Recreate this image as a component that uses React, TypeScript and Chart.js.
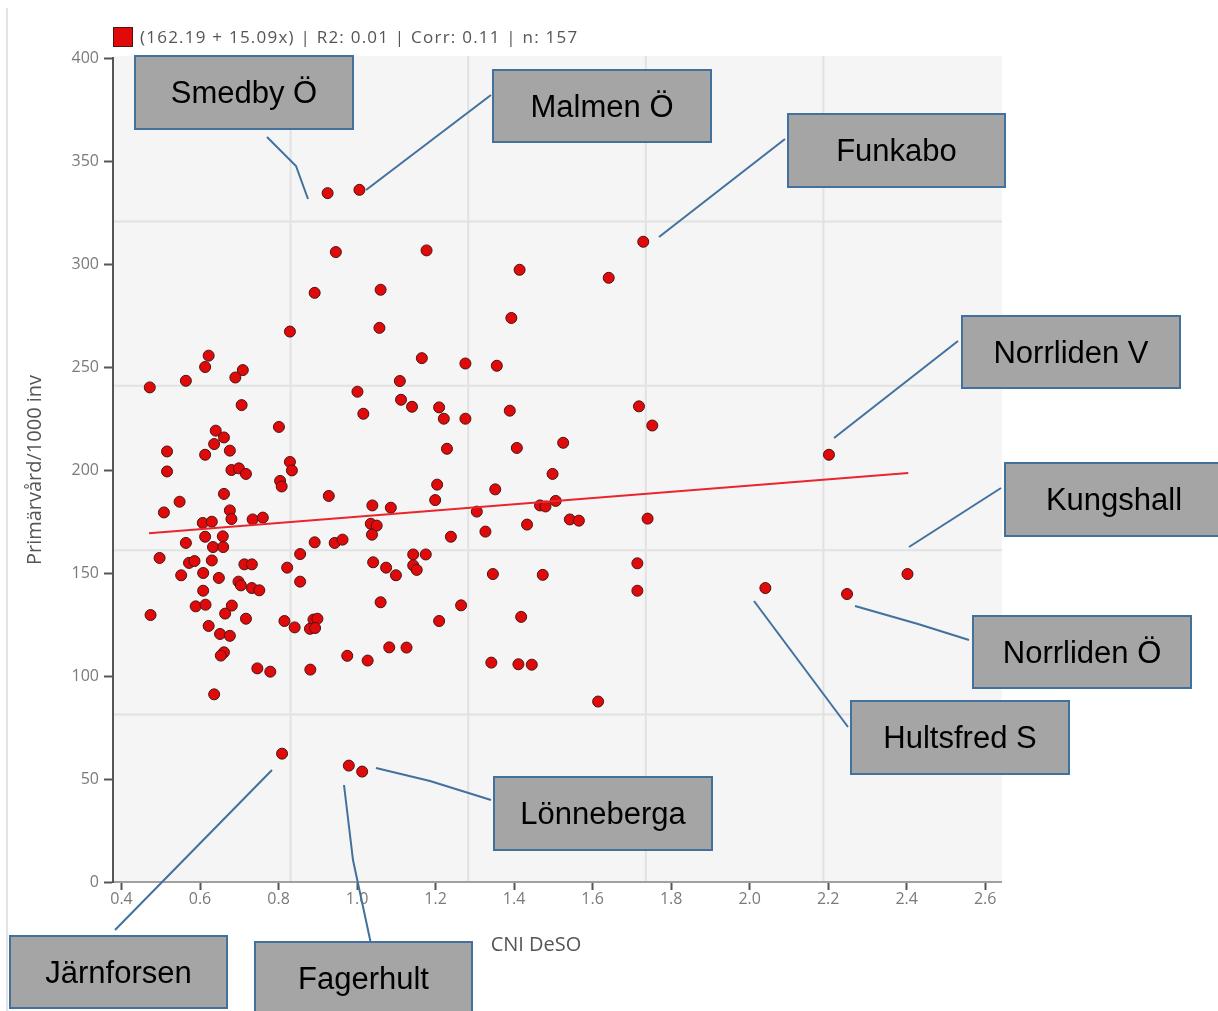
import React, { useEffect, useRef } from "react";
import { Chart, registerables } from "chart.js";

Chart.register(...registerables);

// ---- data ----
const cniDeso = [
  0.925, 1.006, 0.946, 0.892, 1.060, 1.057, 0.829, 0.622, 0.613, 0.709,
  0.690, 0.564, 0.472, 0.706, 1.001, 1.016, 0.640, 0.661, 0.636, 0.676,
  0.516, 0.613, 0.801, 0.829, 0.834, 0.516, 0.680, 0.699, 0.717, 0.804,
  0.808, 0.661, 0.928, 0.548, 0.676, 0.508, 1.039, 1.086, 0.680, 0.607,
  0.630, 0.734, 0.760, 1.035, 1.050, 1.038, 0.613, 0.658, 0.564, 0.633,
  0.659, 0.892, 0.943, 0.963, 0.497, 0.855, 0.572, 0.586, 0.630, 0.713,
  0.732, 0.822, 1.041, 1.074, 1.099, 0.552, 0.608, 0.648, 0.855, 0.698,
  0.704, 0.732, 0.751, 0.608, 1.060, 0.589, 0.614, 0.681, 0.474, 0.664,
  0.717, 0.815, 0.841, 0.889, 0.899, 0.880, 0.893, 0.622, 0.651, 0.676,
  0.661, 0.653, 1.082, 0.975, 1.027, 0.746, 0.779, 0.881, 0.636, 1.177,
  1.414, 1.729, 1.641, 1.393, 1.165, 1.276, 1.356, 1.109, 1.112, 1.140,
  1.209, 1.221, 1.276, 1.389, 1.718, 1.752, 1.525, 1.229, 1.407, 1.498,
  1.204, 1.352, 1.199, 1.305, 1.466, 1.480, 1.506, 1.327, 1.433, 1.542,
  1.565, 1.740, 1.239, 1.143, 1.175, 1.143, 1.152, 1.346, 1.473, 1.714,
  1.714, 1.265, 1.209, 1.418, 1.126, 1.342, 1.411, 1.445, 1.614, 0.809,
  0.979, 1.013, 2.202, 2.040, 2.248, 2.402,
];
const primarvard = [
  334.4, 336.0, 305.8, 286.0, 287.5, 269.0, 267.2, 255.5, 250.0, 248.5,
  244.9, 243.3, 240.1, 231.5, 238.0, 227.3, 219.1, 215.8, 212.6, 209.4,
  209.0, 207.4, 220.9, 203.9, 199.8, 199.3, 200.0, 200.8, 198.1, 194.7,
  192.0, 188.4, 187.4, 184.6, 180.4, 179.4, 182.8, 181.7, 176.2, 174.3,
  174.9, 176.0, 176.9, 173.9, 173.0, 168.6, 167.6, 167.8, 164.6, 162.6,
  162.6, 164.9, 164.6, 166.2, 157.3, 159.2, 154.9, 155.8, 156.1, 154.2,
  154.2, 152.6, 155.2, 152.6, 148.9, 148.9, 150.0, 147.6, 145.8, 145.8,
  144.0, 142.7, 141.6, 141.4, 135.8, 133.8, 134.6, 134.2, 129.6, 130.3,
  127.8, 126.7, 123.6, 127.4, 127.8, 122.9, 123.3, 124.3, 120.4, 119.5,
  111.5, 109.9, 113.9, 109.8, 107.5, 103.7, 102.1, 103.1, 91.1, 306.6,
  297.2, 310.8, 293.3, 273.8, 254.3, 251.7, 250.6, 243.2, 234.1, 230.7,
  230.4, 224.9, 224.9, 228.8, 230.9, 221.6, 213.2, 210.3, 210.7, 198.1,
  192.9, 190.6, 185.4, 179.8, 182.8, 182.3, 185.0, 170.1, 173.5, 176.0,
  175.4, 176.4, 167.6, 159.0, 159.0, 153.7, 151.5, 149.5, 149.1, 154.7,
  141.4, 134.3, 126.7, 128.7, 113.8, 106.5, 105.7, 105.5, 87.6, 62.3,
  56.5, 53.6, 207.4, 142.7, 139.8, 149.5,
];
const trendX = [0.47, 2.404];
const trendY = [169.3, 198.5];
const xTicks = [0.4, 0.6, 0.8, 1.0, 1.2, 1.4, 1.6, 1.8, 2.0, 2.2, 2.4, 2.6];
const yTicks = [0, 50, 100, 150, 200, 250, 300, 350, 400];
const legendText = "(162.19 + 15.09x) | R2: 0.01 | Corr: 0.11 | n: 157";
const xTitle = "CNI DeSO";
const yTitle = "Primärvård/1000 inv";
const calloutNames = [
  "Smedby Ö", "Malmen Ö", "Funkabo", "Norrliden V", "Kungshall",
  "Norrliden Ö", "Hultsfred S", "Lönneberga", "Järnforsen", "Fagerhult",
];

// ---- layout of the overlaid callout boxes (page pixels) ----
const calloutLayout = [
  { box: [135, 56, 218, 73], line: [[267, 137], [296, 166], [308, 199]] },
  { box: [493, 70, 218, 72], line: [[491, 95], [366, 190]] },
  { box: [788, 114, 217, 73], line: [[785, 139], [659, 237]] },
  { box: [962, 316, 218, 72], line: [[958, 341], [834, 438]] },
  { box: [1005, 463, 218, 73], line: [[1001, 488], [909, 547]] },
  { box: [973, 616, 218, 72], line: [[969, 640], [918, 624], [855, 606]] },
  { box: [851, 701, 218, 73], line: [[848, 727], [754, 601]] },
  { box: [494, 777, 218, 73], line: [[491, 800], [430, 781], [376, 768]] },
  { box: [10, 936, 217, 72], line: [[115, 930], [272, 770]] },
  { box: [255, 942, 217, 73], line: [[371, 944], [353, 860], [344, 785]] },
];

const UI_FONT = "'Open Sans', 'Noto Sans', sans-serif";
const LEGEND_TEXT_WIDTH = 437;

const decorPlugin = {
  id: "decor",
  beforeDraw(chart: any) {
    const { ctx, chartArea: a } = chart;
    ctx.save();
    // container edge line
    ctx.strokeStyle = "#e4e4e4";
    ctx.lineWidth = 2;
    ctx.beginPath();
    ctx.moveTo(7, 8);
    ctx.lineTo(7, 1011);
    ctx.stroke();
    // plot background
    ctx.fillStyle = "#f5f5f5";
    ctx.fillRect(a.left, a.top - 2, a.right - a.left + 1, a.bottom - a.top + 2);
    // 5x5 background grid
    ctx.strokeStyle = "#e2e2e2";
    ctx.lineWidth = 2;
    for (let i = 1; i < 5; i++) {
      const x = a.left + ((a.right - a.left) * i) / 5;
      const y = a.top - 1 + ((a.bottom - a.top - 2) * i) / 5;
      ctx.beginPath();
      ctx.moveTo(x, a.top - 2);
      ctx.lineTo(x, a.bottom);
      ctx.stroke();
      ctx.beginPath();
      ctx.moveTo(a.left, y);
      ctx.lineTo(a.right + 1, y);
      ctx.stroke();
    }
    ctx.restore();
  },
  afterDraw(chart: any) {
    const { ctx, chartArea: a } = chart;
    ctx.save();
    // legend
    ctx.fillStyle = "#e00a0a";
    ctx.fillRect(a.left, 27, 20, 20);
    ctx.strokeStyle = "#5a1010";
    ctx.lineWidth = 1;
    ctx.strokeRect(a.left + 0.5, 27.5, 19, 19);
    ctx.fillStyle = "#555";
    ctx.font = `17px ${UI_FONT}`;
    ctx.textAlign = "left";
    ctx.textBaseline = "middle";
    const w = ctx.measureText(legendText).width;
    const spacing = Math.max(0, (LEGEND_TEXT_WIDTH - w) / (legendText.length - 1));
    (ctx as any).letterSpacing = `${spacing.toFixed(2)}px`;
    ctx.fillText(legendText, a.left + 27, 38);
    (ctx as any).letterSpacing = "0px";
    // x axis title
    ctx.fillStyle = "#555";
    ctx.font = `20px ${UI_FONT}`;
    ctx.textAlign = "center";
    ctx.fillText(xTitle, 536, 945);
    // callouts
    calloutLayout.forEach((c, i) => {
      ctx.strokeStyle = "#41719c";
      ctx.lineWidth = 2;
      ctx.beginPath();
      c.line.forEach((p, j) => (j === 0 ? ctx.moveTo(p[0], p[1]) : ctx.lineTo(p[0], p[1])));
      ctx.stroke();
      const [bx, by, bw, bh] = c.box;
      ctx.fillStyle = "#a5a5a5";
      ctx.fillRect(bx, by, bw, bh);
      ctx.strokeRect(bx, by, bw, bh);
      ctx.fillStyle = "#000";
      ctx.font = `31px 'Liberation Sans', Arial, sans-serif`;
      ctx.textAlign = "center";
      ctx.textBaseline = "middle";
      ctx.fillText(calloutNames[i], bx + bw / 2, by + bh / 2 + 2);
    });
    ctx.restore();
  },
};

export default function App() {
  const canvasRef = useRef<HTMLCanvasElement | null>(null);

  useEffect(() => {
    const canvas = canvasRef.current;
    if (!canvas) return;
    const points = cniDeso.map((x, i) => ({ x, y: primarvard[i] }));
    const trend = trendX.map((x, i) => ({ x, y: trendY[i] }));
    const chart = new Chart(canvas, {
      type: "scatter",
      data: {
        datasets: [
          {
            label: legendText,
            data: points,
            backgroundColor: "#e00a0a",
            borderColor: "#4a1414",
            borderWidth: 1,
            pointRadius: 5.5,
            order: 2,
          },
          {
            label: "trend",
            data: trend,
            showLine: true,
            borderColor: "#e8262e",
            borderWidth: 2,
            pointRadius: 0,
            fill: false,
            order: 1,
          } as any,
        ],
      },
      options: {
        responsive: false,
        animation: false,
        devicePixelRatio: 1,
        layout: { padding: { left: 23, top: 58, right: 217, bottom: 49 } },
        plugins: {
          legend: { display: false },
          tooltip: { enabled: false },
          title: { display: false },
        },
        scales: {
          x: {
            type: "linear",
            min: 0.37835,
            max: 2.6402,
            afterBuildTicks: (s: any) => {
              s.ticks = xTicks.map((v) => ({ value: v }));
            },
            afterFit: (s: any) => {
              s.height = 80;
            },
            grid: {
              drawOnChartArea: false,
              drawTicks: true,
              tickLength: 8,
              tickColor: "#555",
              tickWidth: 2,
            },
            border: { display: true, color: "#a0a0a0", width: 2 },
            ticks: {
              color: "#7a7a7a",
              font: { family: UI_FONT, size: 16 },
              padding: 0,
              maxRotation: 0,
              autoSkip: false,
              callback: (v: any) => Number(v).toFixed(1),
            },
          },
          y: {
            type: "linear",
            min: 0,
            max: 400,
            afterBuildTicks: (s: any) => {
              s.ticks = yTicks.map((v) => ({ value: v }));
            },
            afterFit: (s: any) => {
              s.width = 90;
            },
            grid: {
              drawOnChartArea: false,
              drawTicks: true,
              tickLength: 9,
              tickColor: "#555",
              tickWidth: 2,
            },
            border: { display: true, color: "#555", width: 2 },
            ticks: {
              color: "#7a7a7a",
              font: { family: UI_FONT, size: 16 },
              padding: 5,
              autoSkip: false,
              callback: (v: any) => String(v),
            },
            title: {
              display: true,
              text: yTitle,
              color: "#555",
              font: { family: UI_FONT, size: 20 },
              padding: 0,
            },
          },
        },
      },
      plugins: [decorPlugin],
    });
    return () => chart.destroy();
  }, []);

  return (
    <div style={{ position: "absolute", left: 0, top: 0, width: 1218, height: 1011, background: "#fff" }}>
      <canvas ref={canvasRef} width={1218} height={1011} style={{ display: "block", width: 1218, height: 1011 }} />
    </div>
  );
}
